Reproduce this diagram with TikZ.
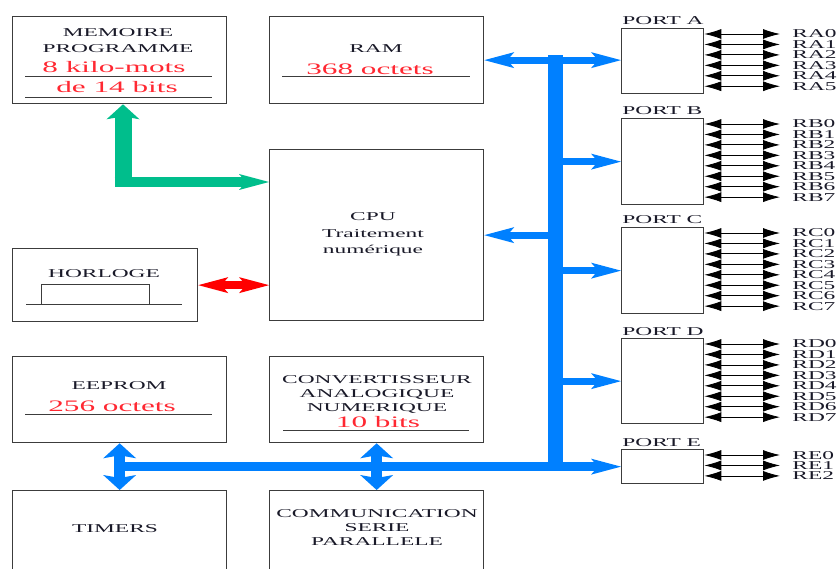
\documentclass[tikz,border=0pt]{standalone}
\usepackage{fontspec}
\setmainfont{Liberation Serif}[FakeStretch=1.95]
\usepackage{tikz}
\usetikzlibrary{arrows.meta,calc}
\definecolor{mybusblue}{RGB}{0,128,255}
\definecolor{mygreen}{RGB}{0,190,140}
\definecolor{myred}{RGB}{255,0,0}
\definecolor{mytextred}{RGB}{255,40,50}
\definecolor{mygray}{RGB}{60,60,60}
\definecolor{mydark}{RGB}{25,25,40}

\begin{document}
\begin{tikzpicture}[
  x=1pt, y=-1pt,
  thick,
  mybox/.style={
    draw=mygray,
    line width=1.3pt,
    rectangle,
    anchor=north west,
    inner sep=0pt,
    minimum width=214pt,
    minimum height=#1
    },
  myport/.style={mybox=#1, minimum width=82pt},
  mytext/.style={
    inner sep=0pt,
    anchor=base,
    text=mydark,
    font=\fontsize{12}{14}\selectfont
    },
  myredtext/.style={mytext, text=mytextred, font=\fontsize{16}{18}\selectfont},
  myrule/.style={draw=mygray, line width=0.9pt},
  mypin/.style={
    color=black,
    line width=0.8pt,
    {Latex[length=17pt,width=10pt]}-{Latex[length=17pt,width=10pt]},
    shorten >=12pt
    },
  hhead/.tip={Stealth[length=30pt,width=16pt,inset=7pt,line width=0pt]},
  vhead/.tip={Stealth[length=15pt,width=33pt,inset=3pt,line width=0pt]},
  mybranch/.style={color=mybusblue, line width=7pt},
  mybigbus/.style={color=mybusblue, line width=15pt}
]
\useasboundingbox (0,0) rectangle (838,569);
\clip (0,0) rectangle (838,569);

% blocs
\node[mybox=87pt] (mem) at (12,16) {};
\node[mybox=87pt] (ram) at (269,16) {};
\node[mybox=171pt] (cpu) at (269,149) {};
\node[mybox=73pt, minimum width=185pt] (horl) at (12,248) {};
\node[mybox=86pt] (eep) at (12,356) {};
\node[mybox=86pt] (can) at (269,356) {};
\node[mybox=120pt] (tim) at (12,490) {};
\node[mybox=120pt] (com) at (269,490) {};

\foreach \tx/\ty/\txt [count=\ti] in {118/37/MEMOIRE, 118/52.5/PROGRAMME, 376/53/RAM,
  373/221/CPU, 373/238/Traitement, 373/254/numérique, 104/278/HORLOGE, 119/389/EEPROM,
  377/383/CONVERTISSEUR, 377/397/ANALOGIQUE, 377/411/NUMERIQUE, 115/532/TIMERS,
  377/517/COMMUNICATION, 377/531/SERIE, 377/545/PARALLELE}
  \node[mytext] (txt\ti) at (\tx,\ty) {\txt};

\foreach \tx/\ty/\txt [count=\ti] in {114/72.5/8 kilo-mots, 117/93/de 14 bits,
  370/74.5/368 octets, 112/411.5/256 octets, 378/427/10 bits}
  \node[myredtext] (red\ti) at (\tx,\ty) {\txt};

\foreach \ra/\ry/\rb in {25/76/212, 25/97/212, 282/76/470, 25/414/212, 283/430/469}
  \draw[myrule] (\ra,\ry) -- (\rb,\ry);

% horloge
\draw[myrule] (41,284) rectangle (149,304);
\draw[myrule] (26,304) -- (182,304);

% ports
\foreach \pn/\ptop/\ph/\pmax in {A/28/65/5, B/118/86/7, C/227/86/7, D/338/85/7, E/449/34/2} {
  \node[myport=\ph] (port\pn) at (621,\ptop) {};
  \node[mytext, anchor=base west] (lbl\pn) at (622,\ptop-3) {PORT \pn};
  \foreach \k in {0,...,\pmax} {
    \coordinate (pin\pn\k) at ($(port\pn.north east)+(0,6+10.45*\k)$);
    \node[mytext, anchor=base west] (name\pn\k) at (792,\ptop+10+10.45*\k) {R\pn\k};
    \draw[mypin] (pin\pn\k) -- (pin\pn\k -| name\pn\k.west);
  }
}

% bus
\coordinate (busN) at (555.5,55.5);
\coordinate (busS) at (555.5,470.5);
\draw[mybigbus] (busN) -- (busS);
\draw[mybranch, {hhead}-{hhead}] (ram.east) -- (ram.east -| portA.west);
\draw[mybranch, -{hhead}] (cpu.east -| busN) -- (cpu.east);
\foreach \pn in {B,C,D}
  \draw[mybranch, -{hhead}] (port\pn.west -| busN) -- (port\pn.west);
\draw[mybranch, line width=9pt, -{hhead}] (eep.south |- portE.west) -- (portE.west);
\draw[mybranch, line width=11pt, {vhead}-{vhead}] (eep.south) -- (tim.north);
\draw[mybranch, line width=11pt, {vhead}-{vhead}] (can.south) -- (com.north);

% memoire programme
\coordinate (gv) at (123,187);
\coordinate (gh) at (114.5,182);
\draw[color=mygreen, line width=17pt, -{vhead}] (gv) -- (gv |- mem.south);
\draw[color=mygreen, line width=10pt, -{hhead}] (gh) -- (gh -| cpu.west);

% horloge
\draw[color=myred, line width=8pt, {hhead}-{hhead}] (horl.east) -- (horl.east -| cpu.west);

\end{tikzpicture}
\end{document}
